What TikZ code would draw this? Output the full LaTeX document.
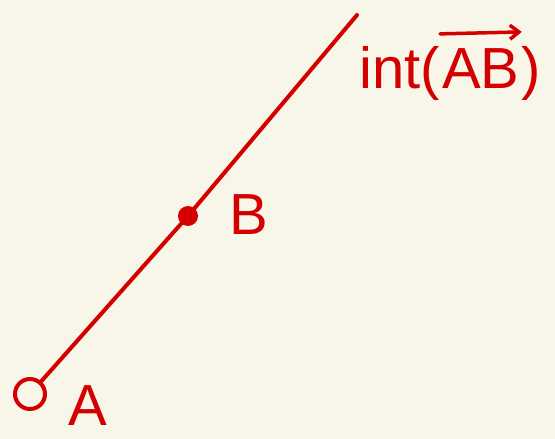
\documentclass[tikz,border=0pt]{standalone}
\usepackage{fontspec}
\setmainfont{Liberation Sans}
\usetikzlibrary{positioning,arrows.meta}
\definecolor{paper}{HTML}{F8F5E9}
\definecolor{ink}{HTML}{D40000}

\begin{document}
\begin{tikzpicture}[
  x=1pt, y=-1pt,
  ink line/.style={draw=ink, line width=4pt, line cap=round, line join=round},
  open pt/.style={circle, ink line, fill=paper, minimum size=30pt, inner sep=0pt},
  full pt/.style={circle, fill=ink, minimum size=20pt, inner sep=0pt},
  label/.style={text=ink, inner sep=0pt, font=\fontsize{58}{60}\selectfont}
]
\fill[paper] (0,0) rectangle (555,439);
\useasboundingbox (0,0) rectangle (555,439);

\node[open pt] (ptA) at (30,394) {};
\node[full pt] (ptB) at (188,216) {};
\coordinate (rayEnd) at (357,15);

\node[label] (labA) at (88,406) {A};
\node[label] (labB) at (249,215) {B};
% int( AB ) in three pieces, arrow over the middle one
\node[label, anchor=base east] (labOpen) at (440,88) {int(};
\node[label, anchor=base west, inner xsep=2pt] (labAB) at (labOpen.base east) {AB};
\node[label, anchor=base west] (labClose) at (labAB.base east) {)};

\draw[ink line] (ptA) -- (ptB.center) -- (rayEnd);
\draw[ink line, line width=3.5pt, -{Straight Barb[length=9pt,width=14pt]}]
  ([yshift=14pt]labAB.north west) -- ([yshift=16pt]labAB.north east);
\end{tikzpicture}
\end{document}
